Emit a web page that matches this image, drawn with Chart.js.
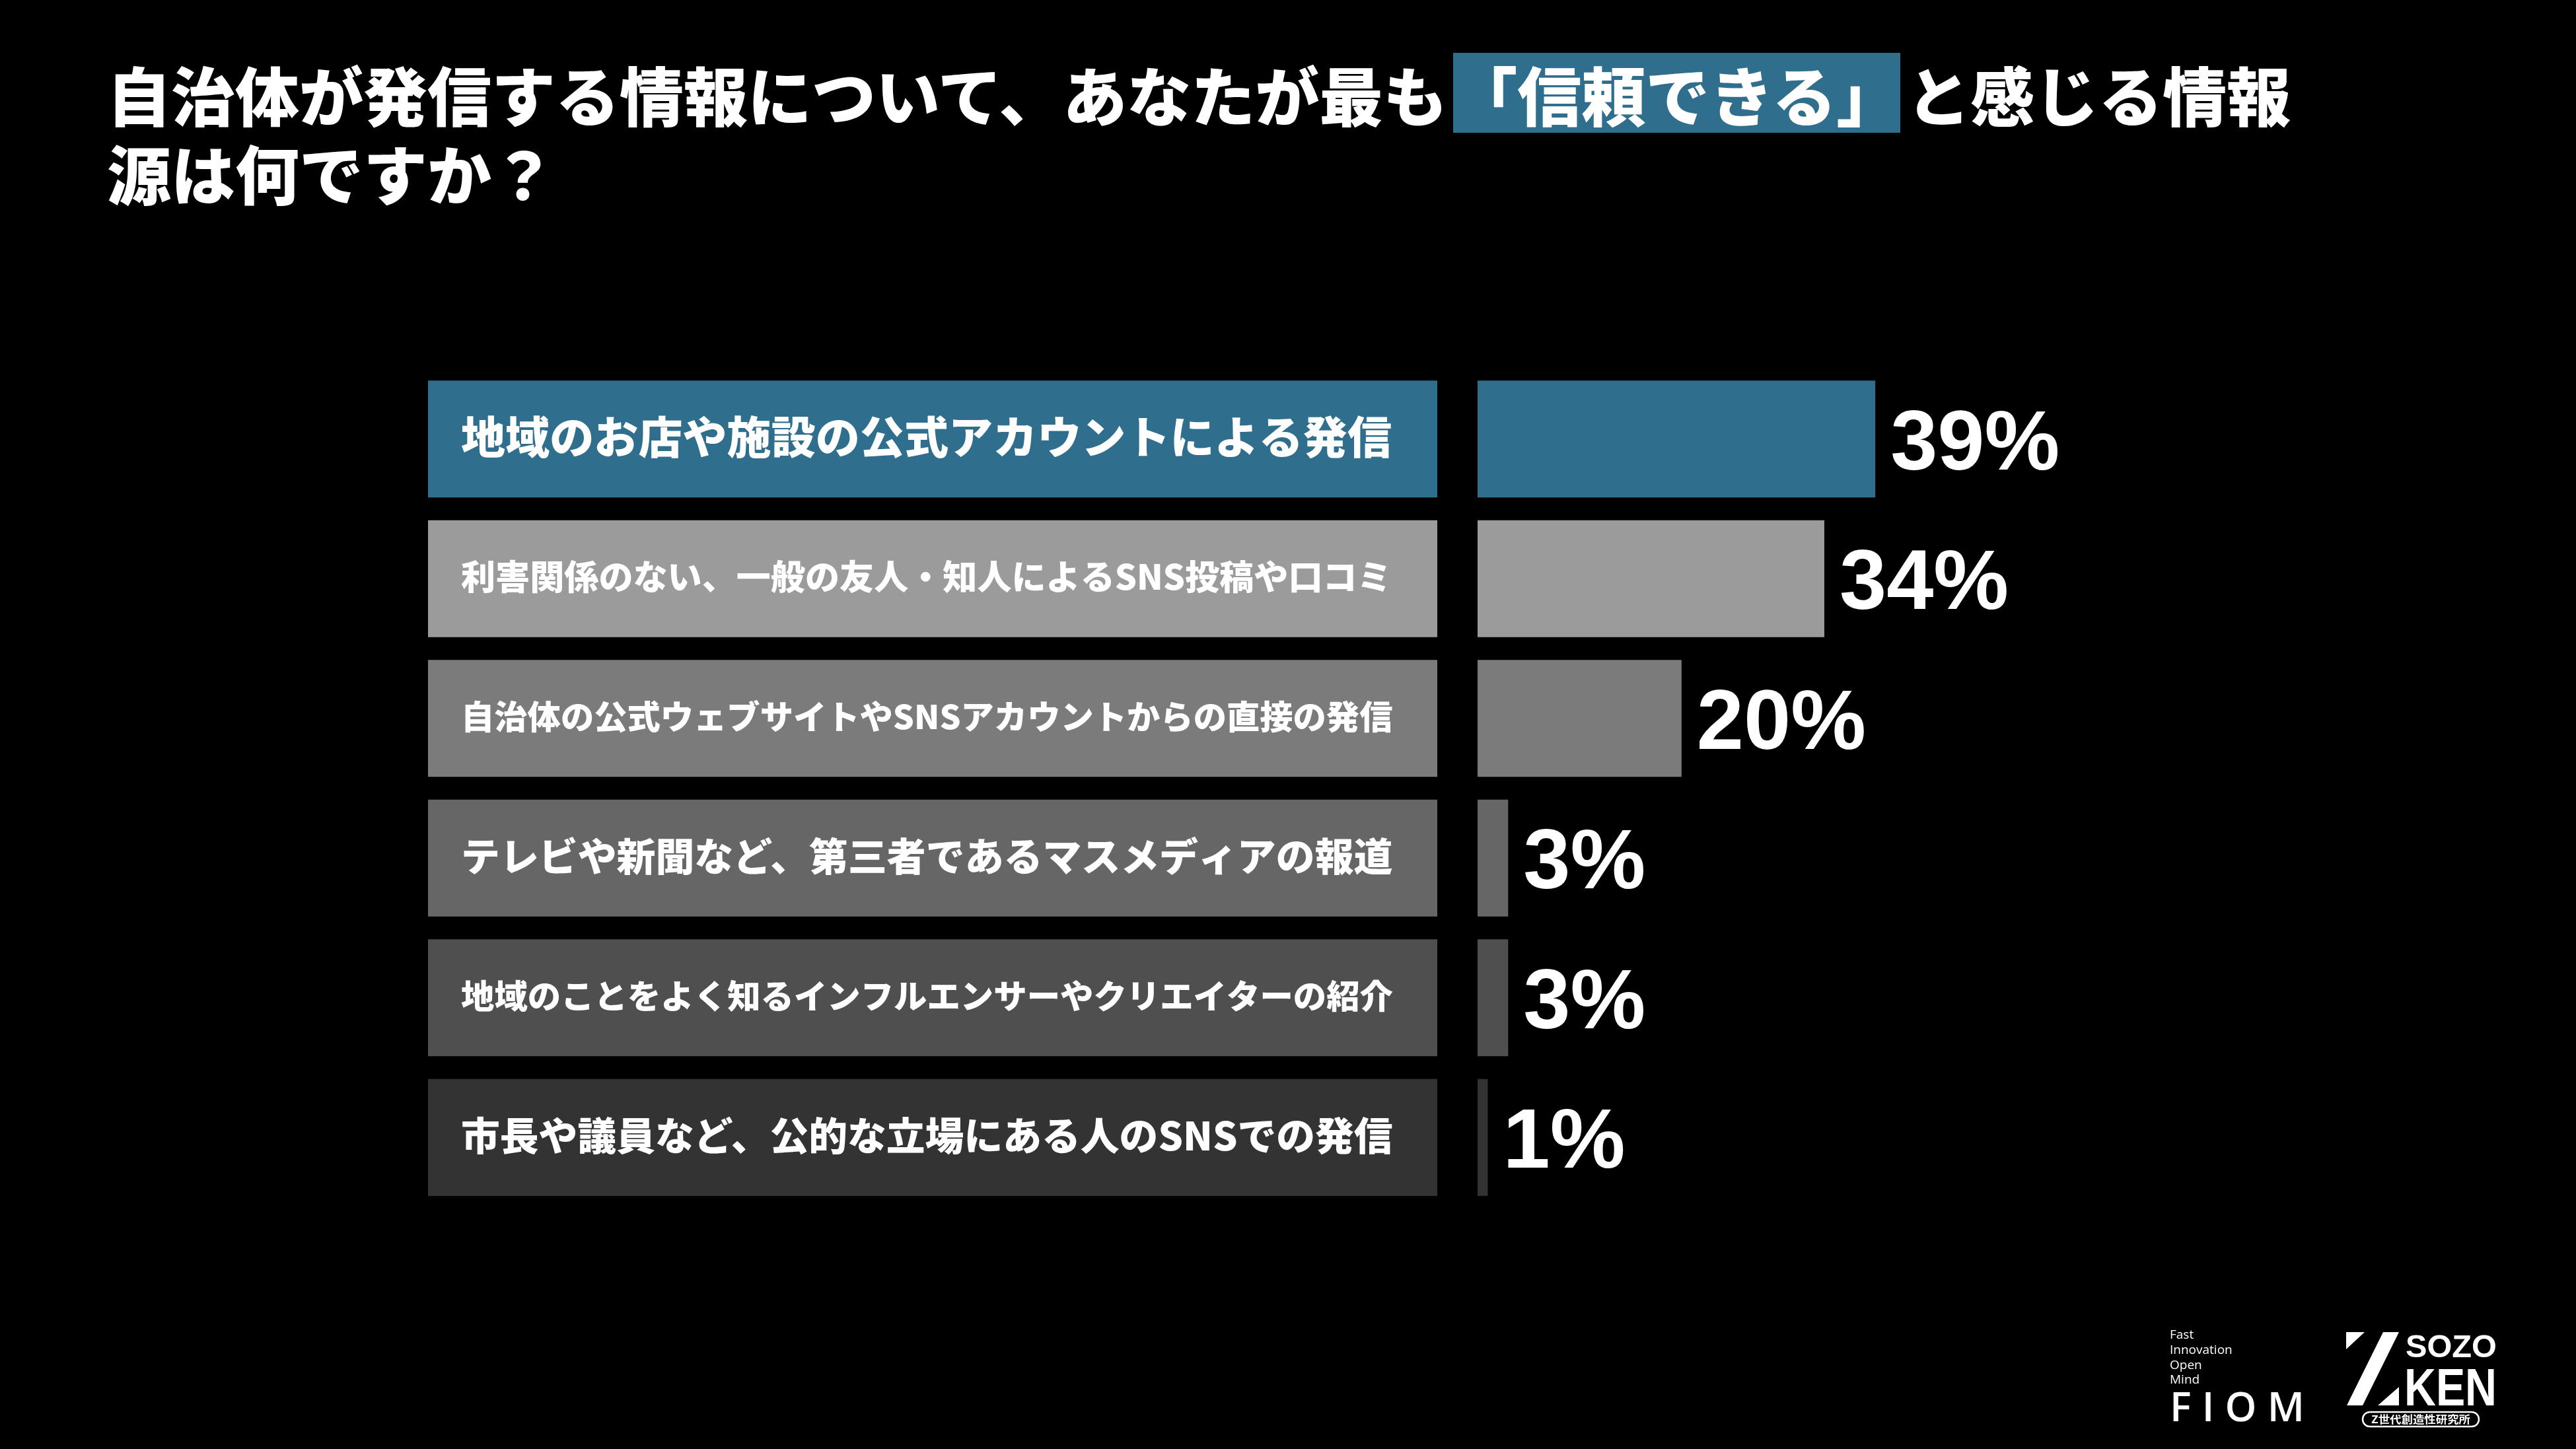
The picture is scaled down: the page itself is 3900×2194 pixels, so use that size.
<!DOCTYPE html>
<html lang="ja">
<head>
<meta charset="utf-8">
<title>信頼できる情報源</title>
<script src="https://cdn.jsdelivr.net/npm/chart.js@4.4.1/dist/chart.umd.min.js"></script>
<style>
  html, body { margin: 0; padding: 0; background: #000; }
  body { width: 3900px; height: 2194px; position: relative; overflow: hidden; font-family: "Noto Sans CJK JP", sans-serif; }
  #chart { position: absolute; left: 0; top: 0; }
  .title { position: absolute; left: 162px; top: 80px; color: #fff; font-size: 97px; font-weight: 900; line-height: 117px; white-space: nowrap; }
  .hl { display: inline-block; background: #2f6f8d; line-height: 121px; margin: 0 9px; }
  .logo { position: absolute; left: 3260px; top: 1990px; }
</style>
</head>
<body>
<div class="title">自治体が発信する情報について、あなたが最も<span class="hl">「信頼できる」</span>と感じる情報<br>源は何ですか？</div>
<canvas id="chart" width="3900" height="2194"></canvas>
<svg class="logo" width="560" height="200" viewBox="0 0 560 200">
  <g fill="#fff" font-family="'Open Sans', 'Liberation Sans', sans-serif">
    <text x="25" y="37" font-size="19">Fast</text>
    <text x="25" y="60" font-size="19">Innovation</text>
    <text x="25" y="83" font-size="19">Open</text>
    <text x="25" y="105" font-size="19">Mind</text>
    <text x="25" y="162" font-size="61" font-weight="600" textLength="204" lengthAdjust="spacing">FIOM</text>
    <polygon points="292,27 320,27 292,53"/>
    <polygon points="348,27 372,27 317,138 293,138"/>
    <polygon points="340,138 372,138 372,110"/>
    <text x="382" y="65" font-size="48" font-weight="bold" font-family="'Liberation Sans', Arial, sans-serif" textLength="138" lengthAdjust="spacingAndGlyphs">SOZO</text>
    <text x="380" y="138" font-size="80" font-weight="bold" font-family="'Liberation Sans', Arial, sans-serif" textLength="140" lengthAdjust="spacingAndGlyphs">KEN</text>
    <rect x="317" y="148" width="176" height="22" rx="11" fill="#000" stroke="#fff" stroke-width="2.5"/>
    <text x="405" y="165" font-size="16" font-weight="bold" text-anchor="middle" font-family="'Noto Sans CJK JP', sans-serif" textLength="150" lengthAdjust="spacingAndGlyphs">Z世代創造性研究所</text>
  </g>
</svg>
<script>
// data
const categories = [
  '地域のお店や施設の公式アカウントによる発信',
  '利害関係のない、一般の友人・知人によるSNS投稿や口コミ',
  '自治体の公式ウェブサイトやSNSアカウントからの直接の発信',
  'テレビや新聞など、第三者であるマスメディアの報道',
  '地域のことをよく知るインフルエンサーやクリエイターの紹介',
  '市長や議員など、公的な立場にある人のSNSでの発信'
];
const shares = [39, 34, 20, 3, 3, 1];
const valueLabels = shares.map(v => v + '%');

const palette = ['#2f6f8d', '#9b9b9b', '#7b7b7b', '#666666', '#4f4f4f', '#333333'];

// label boxes on the left of each bar, plus the value text to the right
const rowLabels = {
  id: 'rowLabels',
  beforeDatasetsDraw(chart) {
    const ctx = chart.ctx;
    const meta = chart.getDatasetMeta(0);
    const boxLeft = 648;
    const boxRight = chart.chartArea.left - 61;
    const textWidth = 1410;
    ctx.save();
    meta.data.forEach((bar, i) => {
      ctx.fillStyle = palette[i];
      ctx.fillRect(boxLeft, bar.y - bar.height / 2, boxRight - boxLeft, bar.height);
      ctx.font = '900 68px "Noto Sans CJK JP", sans-serif';
      const w = ctx.measureText(categories[i]).width;
      const size = 68 * textWidth / w;
      ctx.font = '900 ' + size.toFixed(1) + 'px "Noto Sans CJK JP", sans-serif';
      ctx.fillStyle = '#fff';
      ctx.textAlign = 'left';
      ctx.textBaseline = 'middle';
      ctx.fillText(categories[i], boxLeft + 50, bar.y - 3);
    });
    ctx.restore();
  },
  afterDatasetsDraw(chart) {
    const ctx = chart.ctx;
    const meta = chart.getDatasetMeta(0);
    ctx.save();
    ctx.fillStyle = '#fff';
    ctx.font = 'bold 128px "Liberation Sans", Arial, sans-serif';
    ctx.textAlign = 'left';
    ctx.textBaseline = 'alphabetic';
    meta.data.forEach((bar, i) => {
      ctx.fillText(valueLabels[i], bar.x + 23, bar.y + 46);
    });
    ctx.restore();
  }
};

new Chart(document.getElementById('chart'), {
  type: 'bar',
  data: {
    labels: categories,
    datasets: [{
      data: shares,
      backgroundColor: palette,
      borderWidth: 0,
      categoryPercentage: 1,
      barPercentage: 0.837
    }]
  },
  options: {
    indexAxis: 'y',
    responsive: false,
    devicePixelRatio: 1,
    animation: false,
    layout: { padding: { left: 2237, right: 119, top: 559, bottom: 366 } },
    scales: {
      x: { display: false, min: 0, max: 100 },
      y: { display: false }
    },
    plugins: {
      legend: { display: false },
      tooltip: { enabled: false }
    }
  },
  plugins: [rowLabels]
});
</script>
</body>
</html>
